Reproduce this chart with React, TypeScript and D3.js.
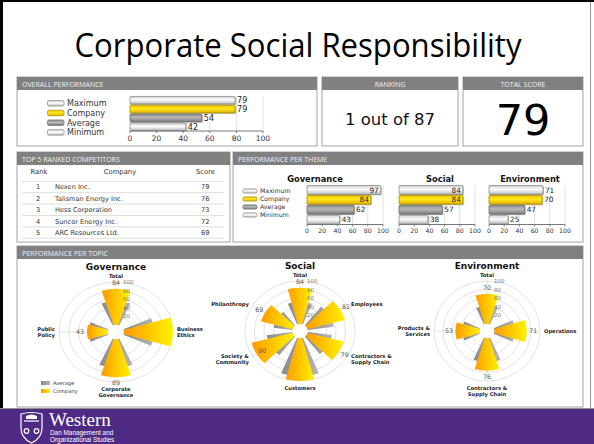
import React from 'react';
import * as d3 from 'd3';

// ---------- DATA ----------
const overallCats = ['Maximum', 'Company', 'Average', 'Minimum'];
const overallValues = [79, 79, 54, 42];
const axisTicks = [0, 20, 40, 60, 80, 100];

const rankingText = '1 out of 87';
const totalScore = 79;

const competitorRanks = [1, 2, 3, 4, 5];
const competitorNames = ['Nexen Inc.', 'Talisman Energy Inc.', 'Hess Corporation', 'Suncor Energy Inc.', 'ARC Resources Ltd.'];
const competitorScores = [79, 76, 73, 72, 69];

const themeNames = ['Governance', 'Social', 'Environment'];
const themeMax = [97, 84, 71];
const themeCompany = [84, 84, 70];
const themeAverage = [62, 57, 47];
const themeMin = [43, 38, 25];

const govTopics = ['Total', 'Business Ethics', 'Corporate Governance', 'Public Policy'];
const govCompany = [84, 100, 89, 43];
const govAverage = [56, 62, 67, 40];
const socTopics = ['Total', 'Employees', 'Contractors & Supply Chain', 'Customers', 'Society & Community', 'Philanthropy'];
const socCompany = [84, 82, 79, 100, 90, 69];
const socAverage = [52, 56, 52, 90, 55, 40];
const envTopics = ['Total', 'Operations', 'Contractors & Supply Chain', 'Products & Services'];
const envCompany = [70, 71, 76, 53];
const envAverage = [42, 45, 57, 38];
const radialTicks = [20, 40, 60, 80, 100];
const topicLegend = ['Average', 'Company'];

// ---------- STYLE ----------
const FONT = "'DejaVu Sans', Verdana, sans-serif";
const HFONT = "'Open Sans', 'Liberation Sans', sans-serif";
const barFills = ['gLight', 'gYellow', 'gGray', 'gLight'];
const barStrokes = ['#8a8a8a', '#a89000', '#6a6a6a', '#8a8a8a'];

function Panel({ x, y, w, h, title, center }: any) {
  return (
    <g>
      <rect x={x} y={y} width={w} height={h} fill="#fff" stroke="#a3a3a3" strokeWidth={1} />
      <rect x={x} y={y} width={w} height={13} fill="#808080" />
      <text
        x={center ? x + w / 2 : x + 5}
        y={y + 9.5}
        textAnchor={center ? 'middle' : 'start'}
        fontFamily={HFONT}
        fontSize={7}
        fill="#f2f2f2"
      >
        {title}
      </text>
    </g>
  );
}

function HBars({ x0, x1, y0, y1, values, tickFont, valFont, insideAt, padding }: any) {
  const x = d3.scaleLinear().domain([0, 100]).range([x0, x1]);
  const y = d3.scaleBand<number>().domain(values.map((_: any, i: number) => i)).range([y0, y1]).paddingInner(padding).paddingOuter(0.05);
  const bw = y.bandwidth();
  return (
    <g>
      {axisTicks.slice(1).map((t) => (
        <line key={'g' + t} x1={x(t)} x2={x(t)} y1={y0} y2={y1} stroke="#e2e2e2" strokeWidth={1} />
      ))}
      {values.map((v: number, i: number) => (
        <g key={'b' + i}>
          <rect x={x(0) + 1} y={(y(i) as number) + 1} width={x(v) - x(0)} height={bw} fill="#bdbdbd" />
          <rect x={x(0)} y={y(i)} width={x(v) - x(0)} height={bw} rx={1} fill={`url(#${barFills[i]})`} stroke={barStrokes[i]} strokeWidth={0.8} />
        </g>
      ))}
      {values.map((v: number, i: number) => {
        const inside = insideAt != null && v >= insideAt;
        return (
          <text
            key={'v' + i}
            x={inside ? x(v) - 2 : x(v) + 2}
            y={(y(i) as number) + bw / 2 + valFont * 0.36}
            textAnchor={inside ? 'end' : 'start'}
            fontFamily={FONT}
            fontSize={valFont}
            fill="#222"
          >
            {v}
          </text>
        );
      })}
      <line x1={x(0)} x2={x(100)} y1={y1} y2={y1} stroke="#777" strokeWidth={1} />
      {axisTicks.map((t) => (
        <g key={'t' + t}>
          <line x1={x(t)} x2={x(t)} y1={y1} y2={y1 + 2} stroke="#777" />
          <text x={x(t)} y={y1 + 2 + tickFont} textAnchor="middle" fontFamily={FONT} fontSize={tickFont} fill="#333">
            {t}
          </text>
        </g>
      ))}
    </g>
  );
}

function Legend({ x, y, step, sw, sh, font }: any) {
  return (
    <g>
      {overallCats.map((c, i) => (
        <g key={c}>
          <rect x={x} y={y + i * step - sh / 2} width={sw} height={sh} rx={1.5} fill={`url(#${barFills[i]})`} stroke={barStrokes[i]} strokeWidth={0.7} />
          <text x={x + sw + 3} y={y + i * step + font * 0.36} fontFamily={FONT} fontSize={font} fill="#333">
            {c}
          </text>
        </g>
      ))}
    </g>
  );
}

function splitLabel(s: string) {
  if (s.includes(' & ')) {
    const [a, b] = s.split(' & ');
    return [a + ' &', b];
  }
  const parts = s.split(' ');
  return parts.length === 2 ? parts : [s];
}

function Polar({ cx, cy, rx, title, topics, company, average, hwC, hwA, legend }: any) {
  const R = 50;
  const R0 = 7;
  const r = d3.scaleLinear().domain([0, 100]).range([R0, R]);
  const n = topics.length;
  const ang = (i: number) => (i * 2 * Math.PI) / n;
  const arc = d3.arc<any>();
  const sx = rx / R;
  const deg = Math.PI / 180;
  return (
    <g>
      <text x={cx} y={cy - 62} textAnchor="middle" fontFamily={FONT} fontWeight="bold" fontSize={9} fill="#111">
        {title}
      </text>
      <g transform={`translate(${cx},${cy}) scale(${sx},1)`}>
        {radialTicks.map((t) => (
          <circle key={t} r={r(t)} fill="none" stroke="#dcdcdc" strokeWidth={0.8} vectorEffect="non-scaling-stroke" />
        ))}
        {topics.map((_: any, i: number) => (
          <line
            key={'s' + i}
            x1={0}
            y1={0}
            x2={Math.sin(ang(i)) * R}
            y2={-Math.cos(ang(i)) * R}
            stroke="#d8d8d8"
            strokeWidth={0.8}
            vectorEffect="non-scaling-stroke"
          />
        ))}
        {average.map((v: number, i: number) => (
          <path
            key={'a' + i}
            d={arc({ innerRadius: R0, outerRadius: r(v), startAngle: ang(i) - hwA * deg, endAngle: ang(i) + hwA * deg }) as string}
            fill="url(#pGray)"
          />
        ))}
        {company.map((v: number, i: number) => (
          <path
            key={'c' + i}
            d={arc({ innerRadius: R0, outerRadius: r(v), startAngle: ang(i) - hwC * deg, endAngle: ang(i) + hwC * deg }) as string}
            fill="url(#pComp)"
          />
        ))}
        <circle r={R0} fill="#fff" />
      </g>
      {radialTicks.map((t) => (
        <text key={'rt' + t} x={cx + 7} y={cy - r(t) + 2} fontFamily={FONT} fontSize={5.5} fill="#777">
          {t}
        </text>
      ))}
      {company.map((v: number, i: number) => {
        if (v >= 100) return null;
        const s = Math.sin(ang(i));
        const c = -Math.cos(ang(i));
        const rr = v >= 90 ? r(v) - 6 : r(v) + 6;
        return (
          <text key={'vl' + i} x={cx + s * rr * sx} y={cy + c * rr + 2.2} textAnchor="middle" fontFamily={FONT} fontSize={6.3} fill="#555">
            {v}
          </text>
        );
      })}
      {topics.map((name: string, i: number) => {
        const s = Math.sin(ang(i));
        const c = -Math.cos(ang(i));
        const px = cx + s * (rx + 4);
        const py = cy + c * (R + 5);
        const lines = name === 'Total' ? [name] : splitLabel(name);
        const anchor = s > 0.3 ? 'start' : s < -0.3 ? 'end' : 'middle';
        const lh = 6;
        return lines.map((ln: string, k: number) => {
          let yy: number;
          if (anchor === 'middle') {
            yy = c < 0 ? py + 1 - (lines.length - 1 - k) * lh : py + 3.5 + k * lh;
          } else {
            yy = py + 2 - ((lines.length - 1) * lh) / 2 + k * lh;
          }
          return (
            <text key={'cl' + i + k} x={px} y={yy} textAnchor={anchor} fontFamily={FONT} fontWeight="bold" fontSize={5.2} fill="#222">
              {ln}
            </text>
          );
        });
      })}
      {legend && (
        <g>
          {topicLegend.map((l, k) => (
            <g key={l}>
              <rect x={cx - 75} y={cy + 49 + k * 8} width={9} height={4} fill={k === 0 ? 'url(#pGray)' : 'url(#pComp)'} />
              <text x={cx - 63} y={cy + 53 + k * 8} fontFamily={FONT} fontSize={5.2} fill="#444">
                {l}
              </text>
            </g>
          ))}
        </g>
      )}
    </g>
  );
}

export default function App() {
  const W = 594;
  const H = 444;
  const themeX0 = [307, 399, 489];
  const themeTitleX = [315, 440, 530];
  const rowY = d3.scaleLinear().domain([0, 4]).range([187, 232.5]);

  return (
    <div style={{ position: 'fixed', left: 0, top: 0, width: W, height: H, background: '#fff' }}>
      <svg width={W} height={H} viewBox={`0 0 ${W} ${H}`} style={{ display: 'block' }}>
        <defs>
          <linearGradient id="gLight" x1="0" y1="0" x2="0" y2="1">
            <stop offset="0" stopColor="#cfcfcf" />
            <stop offset="0.45" stopColor="#ffffff" />
            <stop offset="1" stopColor="#b8b8b8" />
          </linearGradient>
          <linearGradient id="gYellow" x1="0" y1="0" x2="0" y2="1">
            <stop offset="0" stopColor="#f2c200" />
            <stop offset="0.45" stopColor="#ffe81a" />
            <stop offset="1" stopColor="#e0b000" />
          </linearGradient>
          <linearGradient id="gGray" x1="0" y1="0" x2="0" y2="1">
            <stop offset="0" stopColor="#8c8c8c" />
            <stop offset="0.45" stopColor="#b8b8b8" />
            <stop offset="1" stopColor="#7a7a7a" />
          </linearGradient>
          <linearGradient id="pComp" x1="0" y1="0" x2="1" y2="0">
            <stop offset="0" stopColor="#ff9a00" />
            <stop offset="1" stopColor="#fff200" />
          </linearGradient>
          <linearGradient id="pGray" x1="0" y1="0" x2="1" y2="0">
            <stop offset="0" stopColor="#8a8a8a" />
            <stop offset="1" stopColor="#b4b4b4" />
          </linearGradient>
        </defs>

        <rect x={0} y={0} width={W} height={H} fill="#fff" />
        {/* slide frame */}
        <rect x={0} y={0} width={W} height={2} fill="#000" />
        <rect x={0} y={0} width={3} height={408} fill="#000" />
        <line x1={590.5} x2={590.5} y1={2} y2={408} stroke="#9a9a9a" />

        {/* title */}
        <text x={298} y={57} textAnchor="middle" fontFamily={HFONT} fontSize={32} fill="#000" textLength={447} lengthAdjust="spacingAndGlyphs">
          Corporate Social Responsibility
        </text>

        {/* Overall performance */}
        <Panel x={17} y={77} w={300} h={69} title="OVERALL PERFORMANCE" />
        <Legend x={47.5} y={103.3} step={9.7} sw={16.5} sh={5.5} font={8} />
        <HBars x0={130} x1={263} y0={96} y1={131} values={overallValues} tickFont={7.5} valFont={8} insideAt={null} padding={0.14} />

        {/* Ranking */}
        <Panel x={322} y={77} w={136} h={69} title="RANKING" center />
        <text x={390} y={125} textAnchor="middle" fontFamily={FONT} fontSize={16.5} fill="#111">
          {rankingText}
        </text>

        {/* Total score */}
        <Panel x={463} y={77} w={120} h={69} title="TOTAL SCORE" center />
        <text x={523} y={135} textAnchor="middle" fontFamily={FONT} fontSize={43} fill="#000">
          {totalScore}
        </text>

        {/* Top 5 competitors */}
        <Panel x={17} y={152} w={213} h={90} title="TOP 5 RANKED COMPETITORS" />
        <text x={39} y={173.5} textAnchor="middle" fontFamily={FONT} fontSize={6.8} fill="#333">Rank</text>
        <text x={120} y={173.5} textAnchor="middle" fontFamily={FONT} fontSize={6.8} fill="#333">Company</text>
        <text x={215} y={173.5} textAnchor="end" fontFamily={FONT} fontSize={6.8} fill="#333">Score</text>
        {competitorRanks.map((rk, i) => (
          <g key={rk}>
            <line x1={22} x2={224} y1={rowY(i) - 5.7} y2={rowY(i) - 5.7} stroke="#dedede" />
            <text x={38} y={rowY(i) + 2.4} textAnchor="middle" fontFamily={FONT} fontSize={6.6} fill="#333">{rk}</text>
            <text x={55} y={rowY(i) + 2.4} fontFamily={FONT} fontSize={6.6} fill="#333">{competitorNames[i]}</text>
            <text x={209.5} y={rowY(i) + 2.4} textAnchor="end" fontFamily={FONT} fontSize={6.6} fill="#333">{competitorScores[i]}</text>
          </g>
        ))}
        <line x1={22} x2={224} y1={rowY(4) + 5.7} y2={rowY(4) + 5.7} stroke="#dedede" />

        {/* Performance per theme */}
        <Panel x={233} y={152} w={350} h={90} title="PERFORMANCE PER THEME" />
        <Legend x={243} y={191} step={8} sw={14} sh={4.2} font={6.2} />
        {themeNames.map((t, k) => (
          <g key={t}>
            <text x={themeTitleX[k]} y={181.5} textAnchor="middle" fontFamily={FONT} fontWeight="bold" fontSize={8.3} fill="#111">
              {t}
            </text>
            <HBars
              x0={themeX0[k]}
              x1={themeX0[k] + 76}
              y0={185}
              y1={224.5}
              values={[themeMax[k], themeCompany[k], themeAverage[k], themeMin[k]]}
              tickFont={6.2}
              valFont={7.3}
              insideAt={80}
              padding={0.1}
            />
          </g>
        ))}

        {/* Performance per topic */}
        <Panel x={17} y={246} w={566} h={161} title="PERFORMANCE PER TOPIC" />
        <Polar cx={116} cy={332} rx={57} title="Governance" topics={govTopics} company={govCompany} average={govAverage} hwC={17} hwA={24} legend />
        <Polar cx={300} cy={331} rx={55} title="Social" topics={socTopics} company={socCompany} average={socAverage} hwC={15} hwA={22} />
        <Polar cx={487} cy={331} rx={53} title="Environment" topics={envTopics} company={envCompany} average={envAverage} hwC={17} hwA={24} />

        {/* footer */}
        <rect x={0} y={408} width={W} height={36} fill="#4e2a84" />
        <line x1={0} x2={W} y1={408.5} y2={408.5} stroke="#8f8f8f" />
        <g stroke="#fff" fill="none" strokeWidth={1.2}>
          <path d="M21,414 Q31.5,411 42,414 L42,428 Q42,438 31.5,443 Q21,438 21,428 Z" />
          <path d="M24,421 L39,421" />
          <circle cx={26.5} cy={431} r={2.3} />
          <circle cx={36.5} cy={431} r={2.3} />
        </g>
        <path d="M26,416 Q31.5,413 37,416 L37,419 L26,419 Z" fill="#fff" />
        <text x={49} y={426} fontFamily="'Liberation Serif', 'DejaVu Serif', serif" fontSize={19} fill="#fff">
          Western
        </text>
        <text x={50} y={434.5} fontFamily="'Liberation Sans', sans-serif" fontSize={6.4} fill="#fff">
          Dan Management and
        </text>
        <text x={50} y={442} fontFamily="'Liberation Sans', sans-serif" fontSize={6.4} fill="#fff">
          Organizational Studies
        </text>
      </svg>
    </div>
  );
}
